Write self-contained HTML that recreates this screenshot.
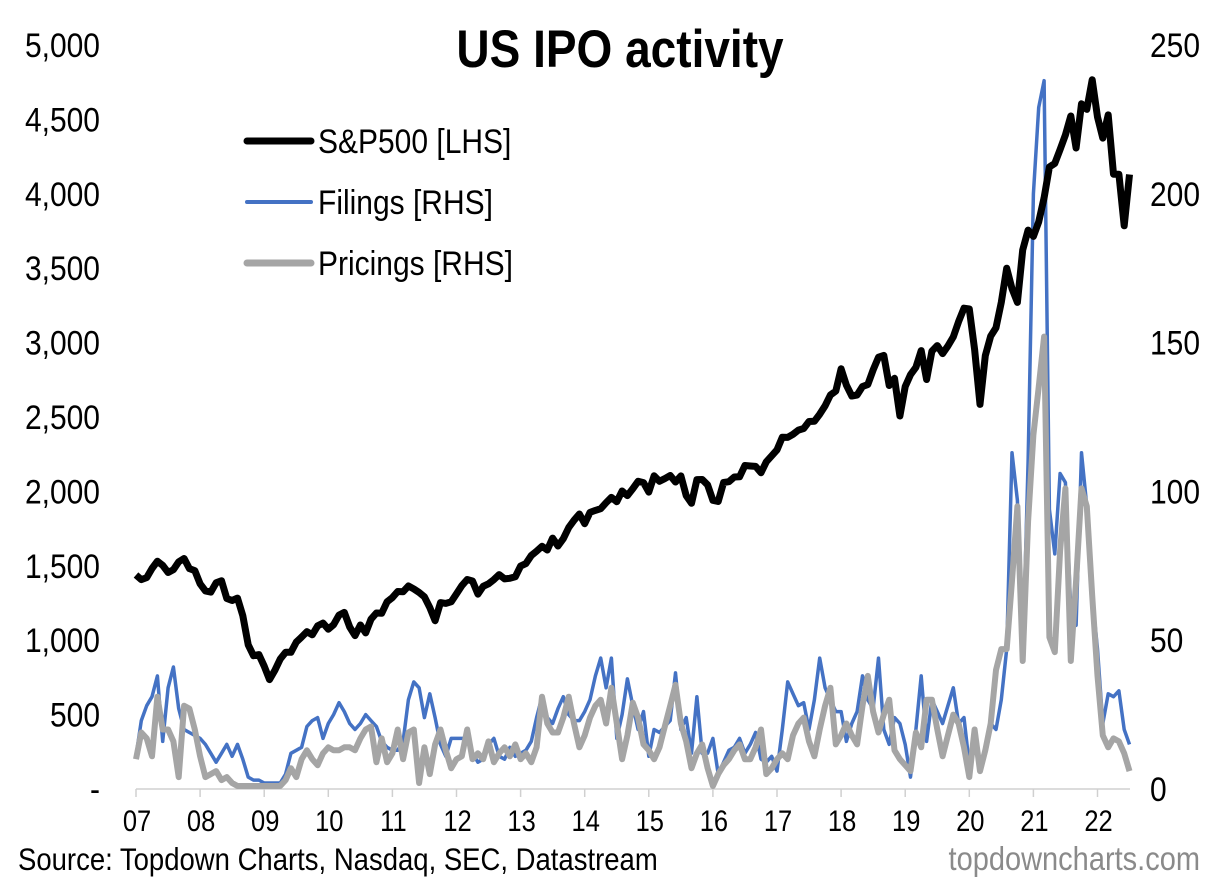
<!DOCTYPE html>
<html><head><meta charset="utf-8">
<style>
html,body{margin:0;padding:0;background:#fff;}
body{width:1225px;height:886px;overflow:hidden;font-family:"Liberation Sans",Arial,sans-serif;}
</style></head>
<body>
<svg id="chart" width="1225" height="886" viewBox="0 0 1225 886" xmlns="http://www.w3.org/2000/svg" font-family="Liberation Sans, Arial, sans-serif">
<text transform="translate(620,67) scale(1,1.15)" text-anchor="middle" font-size="46" font-weight="bold" fill="#000">US IPO activity</text>
<g id="axes"></g>
<g id="series"></g>
<g>
 <line x1="247" y1="141" x2="311" y2="141" stroke="#000" stroke-width="7" stroke-linecap="round"/>
 <text transform="translate(318,153) scale(1,1.15)" font-size="30">S&amp;P500 [LHS]</text>
 <line x1="247" y1="202" x2="311" y2="202" stroke="#4472C4" stroke-width="4" stroke-linecap="round"/>
 <text transform="translate(318,214) scale(1,1.15)" font-size="30">Filings [RHS]</text>
 <line x1="247" y1="263" x2="311" y2="263" stroke="#A5A5A5" stroke-width="7" stroke-linecap="round"/>
 <text transform="translate(318,275) scale(1,1.15)" font-size="30">Pricings [RHS]</text>
</g>
<text transform="translate(18,870) scale(1,1.15)" font-size="27.5" fill="#000">Source: Topdown Charts, Nasdaq, SEC, Datastream</text>
<text transform="translate(1200,870) scale(1,1.15)" text-anchor="end" font-size="29" fill="#8a8a8a">topdowncharts.com</text>
</svg>
<script>
const yearLabels = ["07","08","09","10","11","12","13","14","15","16","17","18","19","20","21","22"];
const leftTicks = [0,500,1000,1500,2000,2500,3000,3500,4000,4500,5000];
const leftTickLabels = ["-","500","1,000","1,500","2,000","2,500","3,000","3,500","4,000","4,500","5,000"];
const rightTicks = [0,50,100,150,200,250];
const sp500 = [1438,1407,1421,1482,1531,1503,1455,1474,1527,1549,1481,1468,
1379,1331,1323,1386,1400,1280,1267,1283,1165,969,896,903,
826,735,798,873,919,919,987,1021,1057,1036,1096,1115,
1074,1104,1169,1187,1089,1031,1102,1049,1141,1183,1181,1258,
1286,1327,1326,1364,1345,1321,1292,1219,1131,1253,1247,1258,
1312,1366,1408,1398,1310,1362,1379,1407,1441,1412,1416,1426,
1498,1515,1569,1598,1631,1606,1686,1633,1682,1757,1806,1848,
1783,1859,1872,1884,1924,1960,1931,2003,1972,2018,2068,2059,
1995,2105,2068,2086,2107,2063,2104,1972,1920,2079,2080,2044,
1940,1932,2060,2065,2097,2099,2174,2171,2168,2126,2199,2239,
2279,2364,2363,2384,2412,2423,2470,2472,2519,2575,2648,2674,
2824,2714,2641,2648,2705,2718,2816,2902,2914,2712,2760,2507,
2704,2784,2834,2946,2752,2942,2980,2926,2977,3038,3141,3231,
3226,2954,2585,2912,3044,3100,3271,3500,3363,3270,3622,3756,
3714,3811,3973,4181,4204,4298,4395,4523,4308,4605,4567,4766,
4516,4374,4530,4132,4132,3785,4130];
const filings = [11,23,28,31,38,16,34,41,27,20,19,18,
17,15,12,9,12,15,11,15,10,4,3,3,
2,2,2,2,5,12,13,14,21,23,24,17,
22,25,29,26,22,20,22,25,23,21,16,14,
13,13,16,30,36,34,24,32,24,15,11,17,
17,17,17,12,9,10,15,17,11,10,14,11,
12,13,16,24,31,24,22,27,31,25,23,23,
26,30,38,44,34,44,17,25,37,28,20,26,
11,20,19,21,23,39,20,24,12,31,12,12,
17,5,9,13,14,17,12,15,19,10,9,11,
6,20,36,32,28,29,20,30,44,34,30,26,
26,16,22,26,38,30,27,44,20,15,24,22,
15,4,20,38,16,30,26,22,28,34,22,24,
8,20,6,14,22,20,30,47,113,97,43,110,
200,229,238,94,79,106,103,60,55,113,95,65,
47,22,32,31,33,20,15];
const pricings = [10,19,17,11,31,20,20,16,4,28,27,20,
11,4,5,6,3,4,2,1,1,1,1,1,
1,1,1,1,3,7,4,10,13,10,8,12,
14,13,13,14,14,13,17,20,21,9,17,9,
12,20,10,19,20,2,14,5,15,20,13,7,
10,11,20,10,12,10,16,9,12,14,11,15,
10,12,9,14,31,22,19,19,24,31,22,14,
18,24,28,30,22,34,22,10,18,29,24,15,
13,10,14,21,28,35,22,16,7,12,15,7,
1,5,8,10,13,15,10,10,14,20,5,7,
10,12,10,18,22,24,16,11,20,28,34,15,
18,22,18,15,28,38,26,19,25,30,13,10,
8,6,19,14,30,30,20,11,18,25,22,14,
4,20,6,13,22,40,47,47,70,95,43,90,
119,135,152,51,46,80,101,43,70,101,95,65,
38,18,14,17,16,12,6];

const NS="http://www.w3.org/2000/svg";
const X0=136, PXYEAR=64.1, Y0=789, YTOP=45;
function xMonth(i){return X0+i*PXYEAR/12;}
function xYear(k){return X0+k*PXYEAR;}
function yL(v){return Y0-(v/5000)*(Y0-YTOP);}
function yR(v){return Y0-(v/250)*(Y0-YTOP);}
const axes=document.getElementById('axes'), series=document.getElementById('series');
function mk(tag,attrs,parent){const e=document.createElementNS(NS,tag);for(const k in attrs)e.setAttribute(k,attrs[k]);parent.appendChild(e);return e;}
function tr(x,y){return 'translate('+x.toFixed(1)+','+y.toFixed(1)+') scale(1,1.15)';}

const base=mk('line',{x1:X0,y1:Y0,x2:1130,y2:Y0,stroke:'#d0d0d0','stroke-width':1.5},axes);


yearLabels.forEach((lab,k)=>{
  const x=xYear(k);
  const t=mk('line',{x1:x,y1:Y0,x2:x,y2:Y0+8,stroke:'#d0d0d0','stroke-width':1.5},axes);
  
  
  const tx=mk('text',{transform:tr(x+1,Y0+42),'text-anchor':'middle','font-size':25.5,fill:'#000'},axes);
  tx.textContent=lab;
  
  
});
leftTicks.forEach((v,i)=>{
  const tx=mk('text',{transform:tr(100,yL(v)+12),'text-anchor':'end','font-size':30,fill:'#000'},axes);
  tx.textContent=leftTickLabels[i];
  
  
});
rightTicks.forEach(v=>{
  const tx=mk('text',{transform:tr(1150,yR(v)+12),'text-anchor':'start','font-size':30,fill:'#000'},axes);
  tx.textContent=String(v);
  
  
});
function pathFor(arr,yf){return arr.map((v,i)=>(i?'L':'M')+xMonth(i).toFixed(1)+' '+yf(v).toFixed(1)).join(' ');}
const fp=mk('path',{d:pathFor(filings,yR),fill:'none',stroke:'#4472C4','stroke-width':3.5,'stroke-linejoin':'round'},series);


const pp=mk('path',{d:pathFor(pricings,yR),fill:'none',stroke:'#A5A5A5','stroke-width':6,'stroke-linejoin':'round'},series);


const sp=mk('path',{d:pathFor(sp500,yL),fill:'none',stroke:'#000','stroke-width':7,'stroke-linejoin':'round'},series);


</script>
</body></html>
